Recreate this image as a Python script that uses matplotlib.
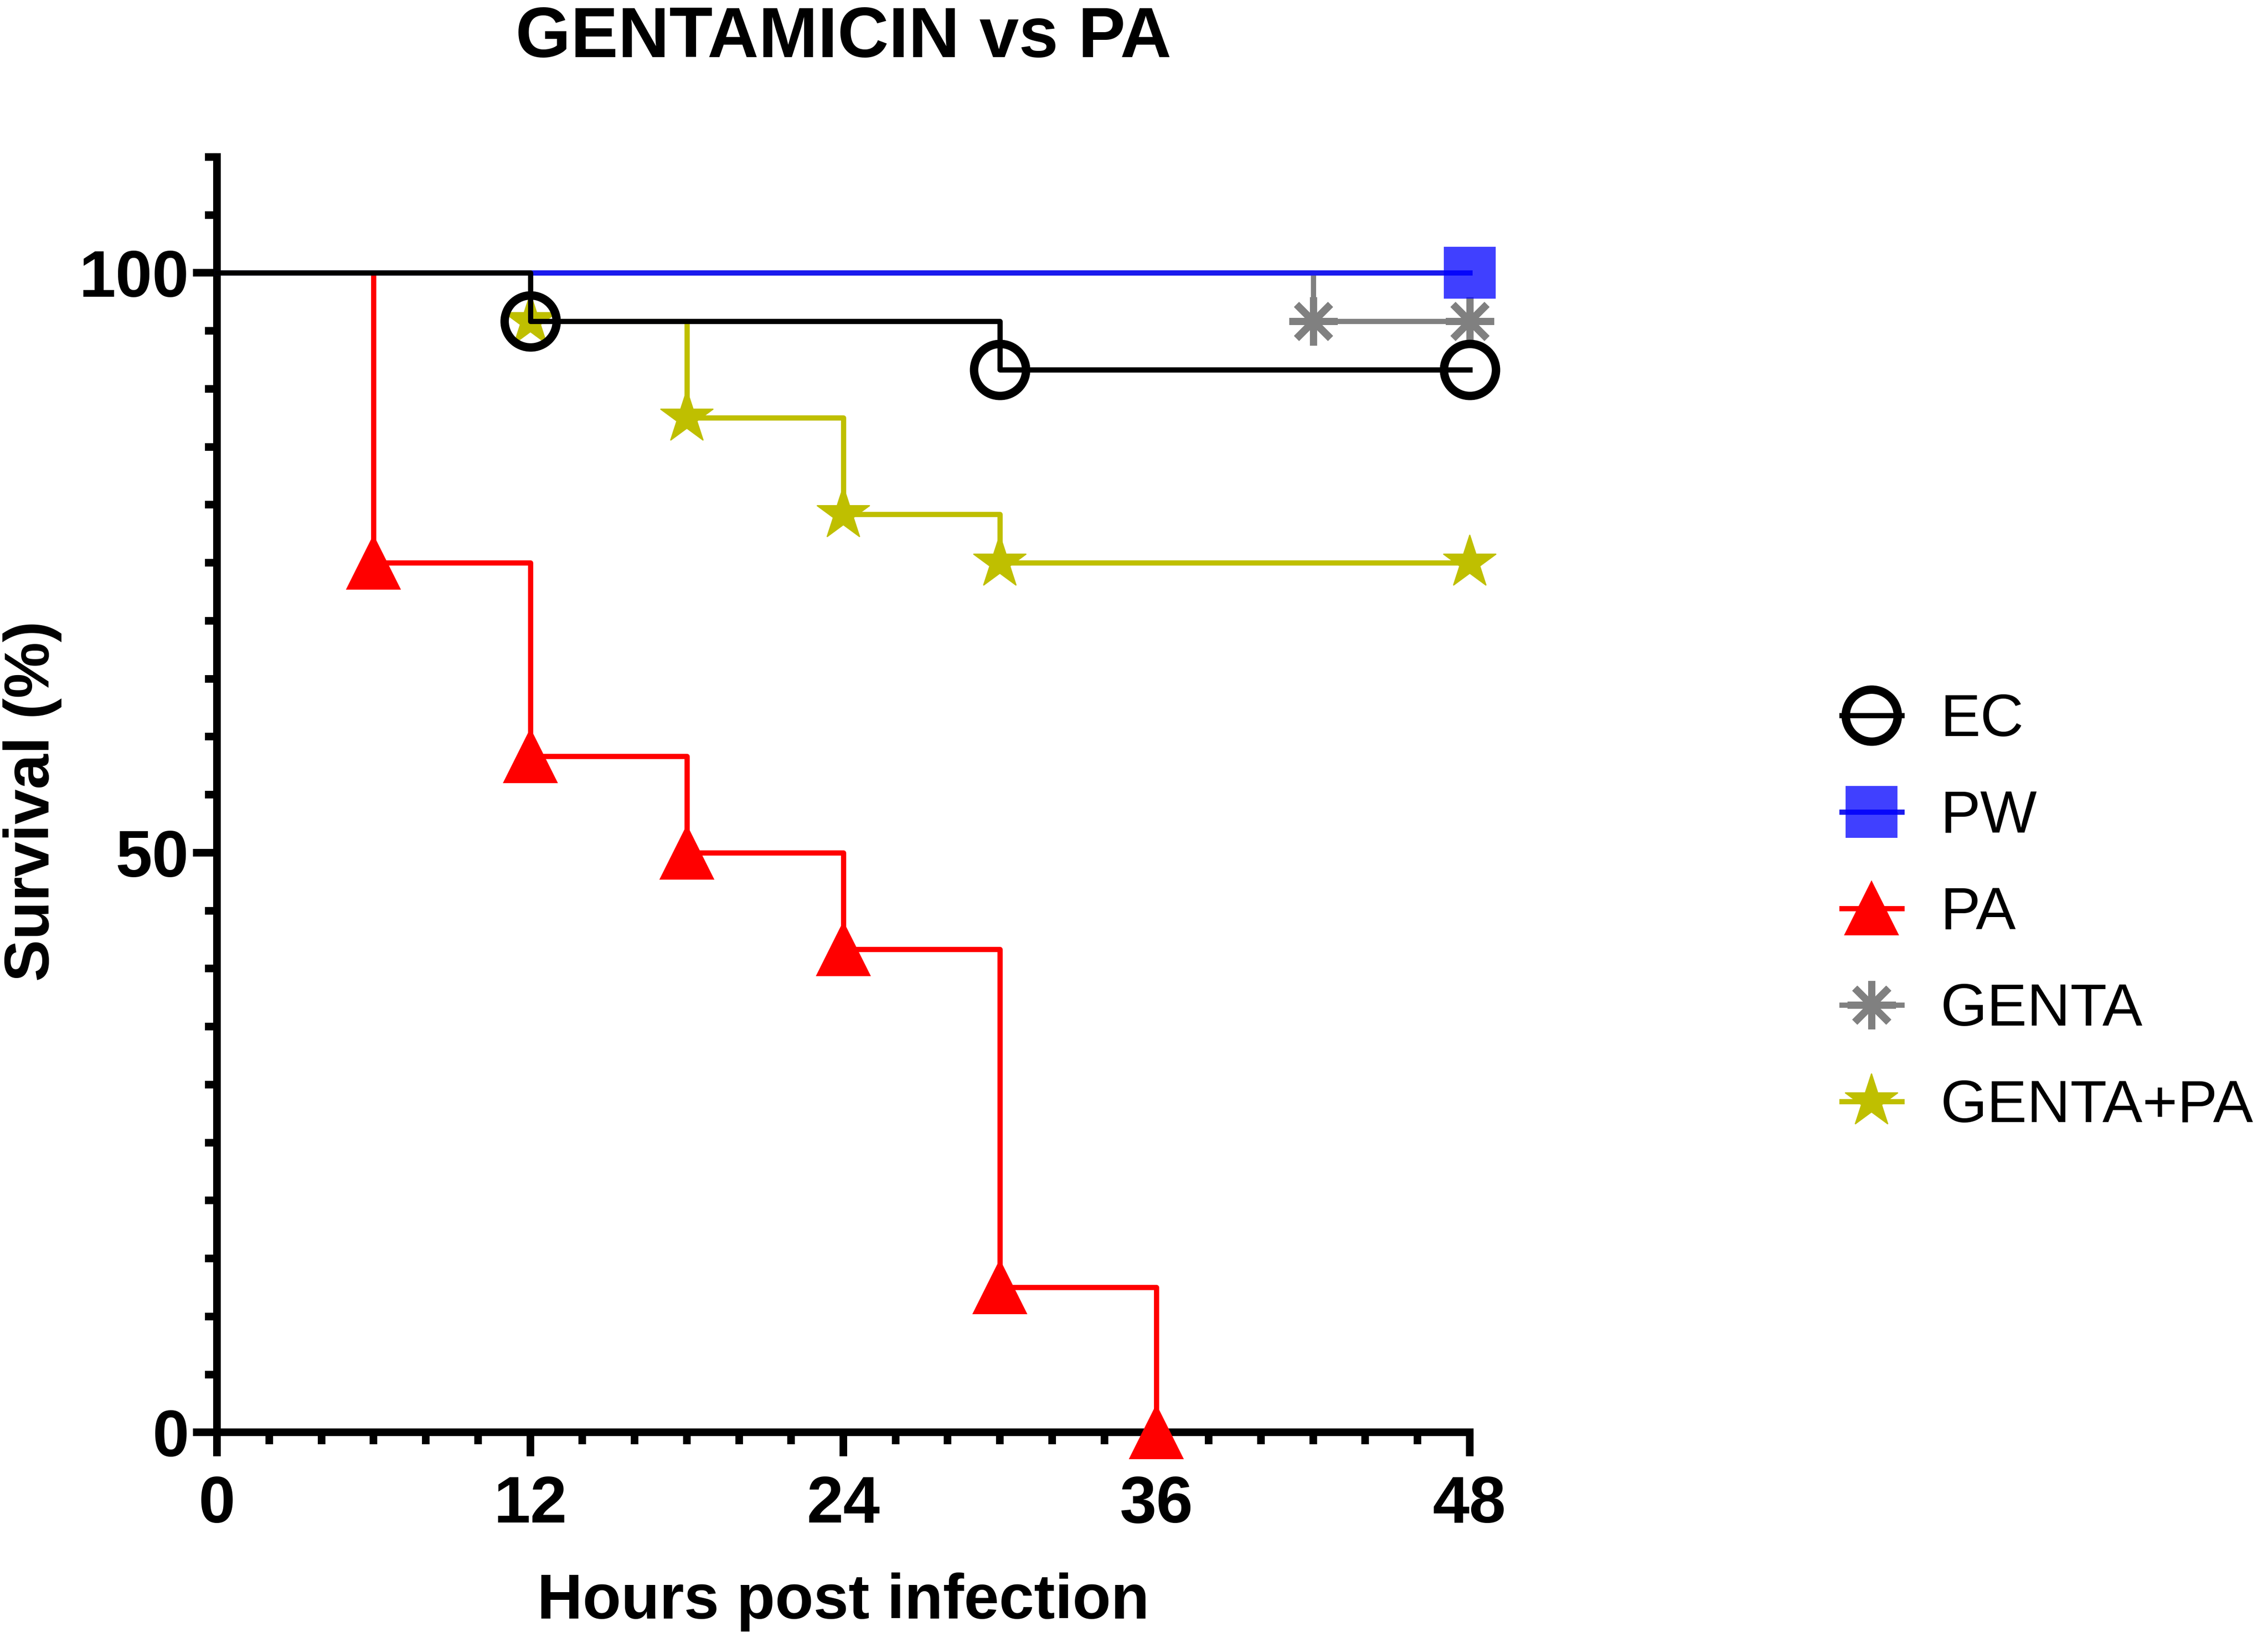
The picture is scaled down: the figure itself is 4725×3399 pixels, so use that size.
import matplotlib
matplotlib.use('Agg')
import matplotlib.pyplot as plt
from matplotlib.ticker import MultipleLocator

plt.rcParams['font.family'] = ['Liberation Sans', 'DejaVu Sans']

# Kaplan-Meier curves (hours, survival %)
ec_t = [0, 12, 30, 48]
ec_s = [100, 95.83, 91.67, 91.67]
pw_t = [0, 48]
pw_s = [100, 100]
pa_t = [0, 6, 12, 18, 24, 30, 36]
pa_s = [100, 75, 58.33, 50, 41.67, 12.5, 0]
genta_t = [0, 42, 48]
genta_s = [100, 95.83, 95.83]
gpa_t = [0, 12, 18, 24, 30, 48]
gpa_s = [100, 95.83, 87.5, 79.17, 75, 75]

x_ticks = [0, 12, 24, 36, 48]
y_ticks = [0, 50, 100]

fig = plt.figure(figsize=(15.75, 11.33), dpi=300)
ax = fig.add_axes([0.0957, 0.1223, 0.5523, 0.7815])

lw = 2.6
common = dict(drawstyle='steps-post', markevery=slice(1, None), clip_on=False, lw=lw)

ax.plot(pa_t, pa_s, color='#ff0000', marker='^', ms=26, mfc='#ff0000', mec='#ff0000',
        label='PA', zorder=3, **common)
ax.plot(gpa_t, gpa_s, color='#bfbf00', marker='*', ms=28, mfc='#bfbf00', mec='#bfbf00',
        mew=0.5, label='GENTA+PA', zorder=4, **common)
ax.plot(genta_t, genta_s, color='#808080', marker=(8, 2, 0), ms=24, mec='#808080',
        mew=3.6, label='GENTA', zorder=5, **common)
ax.plot(pw_t, pw_s, color='#1a1aee', marker='s', ms=26, mfc=(0, 0, 1, 0.75),
        mec=(0, 0, 1, 0), label='PW', zorder=6, **common)
ax.plot(ec_t, ec_s, color='black', marker='o', ms=26, mfc='none', mec='black',
        mew=4.2, label='EC', zorder=7, **common)

ax.set_xlim(0, 48)
ax.set_ylim(0, 110)
ax.xaxis.set_major_locator(plt.FixedLocator(x_ticks))
ax.xaxis.set_minor_locator(MultipleLocator(2))
ax.yaxis.set_major_locator(plt.FixedLocator(y_ticks))
ax.yaxis.set_minor_locator(MultipleLocator(5))

for s in ['top', 'right']:
    ax.spines[s].set_visible(False)
for s in ['left', 'bottom']:
    ax.spines[s].set_linewidth(3.8)
    ax.spines[s].set_capstyle('projecting')

ax.tick_params(which='major', length=12, width=3.8, labelsize=33)
ax.tick_params(axis='x', which='major', pad=9)
ax.tick_params(axis='y', which='major', pad=2)
ax.tick_params(which='minor', length=6, width=3.8)
for lab in ax.get_xticklabels() + ax.get_yticklabels():
    lab.set_fontweight('bold')

ax.set_xlabel('Hours post infection', fontsize=31.5, fontweight='bold', labelpad=18)
ax.set_ylabel('Survival (%)', fontsize=31.5, fontweight='bold')
ax.yaxis.set_label_coords(-0.124, 0.495)
ax.set_title('GENTAMICIN vs PA', fontsize=35.5, fontweight='bold', pad=50)

handles, labels = ax.get_legend_handles_labels()
order = ['EC', 'PW', 'PA', 'GENTA', 'GENTA+PA']
hd = dict(zip(labels, handles))
fig.legend([hd[k] for k in order], order, loc='center left',
           bbox_to_anchor=(0.812, 0.440), frameon=False, fontsize=30,
           handlelength=1.0, handletextpad=0.65, labelspacing=0.68,
           borderpad=0, borderaxespad=0, markerscale=1.0)

fig.savefig('out.png', dpi=300)
